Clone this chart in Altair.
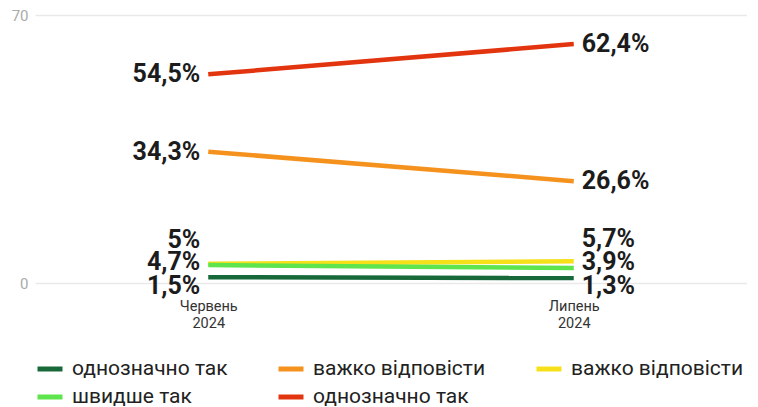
import altair as alt
import pandas as pd
import json

# ---- data ----
months = ["Червень 2024", "Липень 2024"]
series_ids = ["s1", "s2", "s3", "s4", "s5"]
series_labels = ["однозначно так", "важко відповісти", "важко відповісти", "швидше так", "однозначно так"]
values_june = [1.5, 34.3, 5.0, 4.7, 54.5]
values_july = [1.3, 26.6, 5.7, 3.9, 62.4]

# ---- style ----
colors = ["#17693a", "#f5921e", "#f5e01a", "#5ee44c", "#e2350f"]
label_dy = {  # (june, july) vertical nudges of value labels, px
    "s1": (9, 8),
    "s2": (0, 0),
    "s3": (-24, -22),
    "s4": (-3, -6),
    "s5": (0, 0),
}

rows = []
for sid, j, l in zip(series_ids, values_june, values_july):
    rows.append({"series": sid, "month": months[0], "value": j})
    rows.append({"series": sid, "month": months[1], "value": l})
df = pd.DataFrame(rows)

label_arr = json.dumps(series_labels, ensure_ascii=False)

x_enc = alt.X("month:N", sort=months,
              scale=alt.Scale(type="point", padding=0.474),
              axis=alt.Axis(title=None, labelExpr="split(datum.label, ' ')",
                            labelAngle=0, ticks=False, domain=False, grid=False,
                            labelFontSize=14.5, labelColor="#333", labelPadding=16,
                            labelFont="Roboto", labelLineHeight=17))
y_enc = alt.Y("value:Q", scale=alt.Scale(domain=[0, 70], nice=False),
              axis=alt.Axis(title=None, values=[0, 70], ticks=False, domain=False,
                            gridColor="#e9e9e9", gridWidth=1.5,
                            labelColor="#aaaaaa", labelFontSize=15, labelPadding=7,
                            labelFont="Roboto"))
color_enc = alt.Color("series:N",
                      scale=alt.Scale(domain=series_ids, range=colors),
                      legend=alt.Legend(title=None, orient="bottom", columns=3,
                                        labelExpr=f"{label_arr}[indexof({json.dumps(series_ids)}, datum.label)]",
                                        symbolType="stroke", symbolStrokeWidth=5,
                                        symbolSize=625, labelFontSize=21,
                                        labelFont="Roboto", labelColor="#222",
                                        labelOffset=7,
                                        columnPadding=40, rowPadding=3,
                                        gridAlign="each", offset=24, labelLimit=400))

base = alt.Chart(df)
lines = base.mark_line(strokeWidth=4.5).encode(
    x=x_enc, y=y_enc, color=color_enc, order=alt.Order("series:N"))

layers = [lines]
for i, sid in enumerate(series_ids):
    for k, m in enumerate(months):
        t = base.transform_filter(
            (alt.datum.series == sid) & (alt.datum.month == m)
        ).transform_calculate(
            lab="replace(format(datum.value, '.1~f'), '.', ',') + '%'"
        ).mark_text(
            align="right" if k == 0 else "left",
            dx=-8 if k == 0 else 8,
            dy=label_dy[sid][k],
            font="Roboto", fontWeight="bold", fontSize=25, color="#1c1c1c",
            baseline="middle",
        ).encode(x=alt.X("month:N", sort=months), y="value:Q", text="lab:N")
        layers.append(t)

chart = alt.layer(*layers).properties(
    width=712, height=268,
    padding={"left": 3, "top": 0, "right": 0, "bottom": 0},
).configure_view(stroke=None)

chart.save("out.html", embed_options={"renderer": "svg", "actions": False})
